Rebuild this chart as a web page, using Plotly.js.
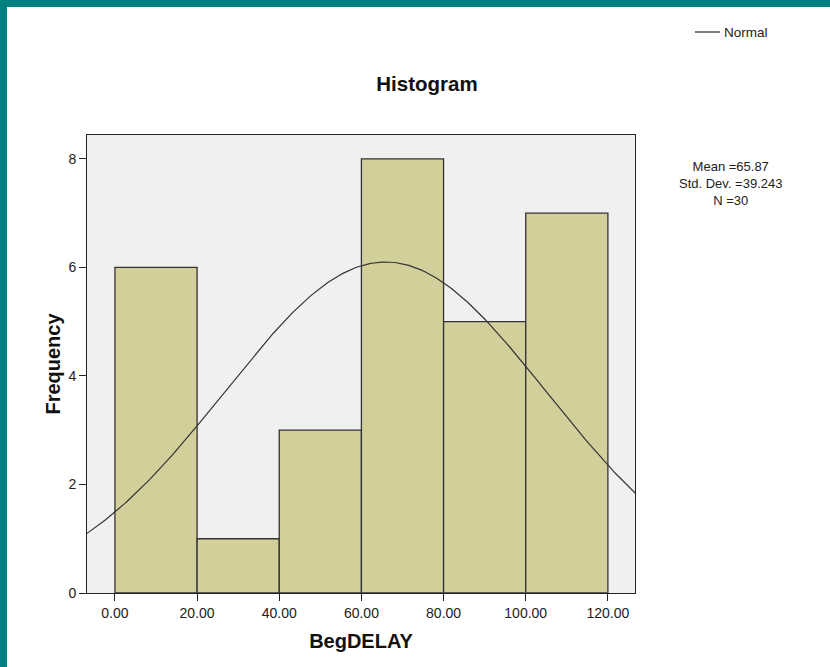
<!DOCTYPE html>
<html>
<head>
<meta charset="utf-8">
<script src="https://cdn.plot.ly/plotly-3.0.1.min.js"></script>
<style>
  html, body { margin: 0; padding: 0; background: #ffffff; }
  #chart { position: absolute; left: 0; top: 0; width: 830px; height: 667px; }
  .strip { position: absolute; background: #008080; pointer-events: none; z-index: 10; }
</style>
</head>
<body>
<div id="chart"></div>
<div class="strip" style="left:0;top:0;width:830px;height:7px;"></div>
<div class="strip" style="left:0;top:0;width:7px;height:667px;"></div>
<script>
// Histogram data
const binStarts = [0, 20, 40, 60, 80, 100];
const binWidth = 20;
const counts = [6, 1, 3, 8, 5, 7];
const xTickVals = [0, 20, 40, 60, 80, 100, 120];
const xTickText = ["0.00", "20.00", "40.00", "60.00", "80.00", "100.00", "120.00"];
const yTickVals = [0, 2, 4, 6, 8];

// Normal fit statistics shown on the chart
const meanVal = 65.87;
const sdVal = 39.243;
const nVal = 30;
const statLines = ['Mean =65.87', 'Std. Dev. =39.243', 'N =30'];

// Fitted normal curve (scaled to frequency) from the displayed statistics
const curveX = [];
const curveY = [];
for (let x = -7; x <= 127; x += 0.5) {
  const z = (x - meanVal) / sdVal;
  curveX.push(x);
  curveY.push(nVal * binWidth * Math.exp(-0.5 * z * z) / (sdVal * Math.sqrt(2 * Math.PI)));
}

const barTrace = {
  type: 'bar',
  x: binStarts.map(b => b + binWidth / 2),
  y: counts,
  width: binStarts.map(() => binWidth),
  marker: { color: '#d3cf9b', line: { color: '#333333', width: 1.3 } },
  showlegend: false,
  hoverinfo: 'x+y'
};

const lineTrace = {
  type: 'scatter',
  mode: 'lines',
  x: curveX,
  y: curveY,
  name: 'Normal',
  line: { color: '#333333', width: 1.2 },
  showlegend: false
};

const font = "'Liberation Sans', Arial, sans-serif";
const L = 87, R = 635, T = 135, B = 593;
const px = x => (x - L) / (R - L);
const py = y => (B - y) / (B - T);

const annotations = [{
  xref: 'paper', yref: 'paper',
  x: px(730.5), y: py(183),
  xanchor: 'center', yanchor: 'middle',
  align: 'center', borderpad: 0,
  showarrow: false, text: statLines.join('<br>'),
  font: { family: font, size: 13, color: '#222' }
}, {
  xref: 'paper', yref: 'paper',
  x: px(722), y: py(32),
  xanchor: 'left', yanchor: 'middle',
  showarrow: false, text: 'Normal',
  font: { family: font, size: 13.5, color: '#222' }
}];

const layout = {
  width: 830,
  height: 667,
  margin: { l: L, r: 830 - R, t: T, b: 667 - B },
  paper_bgcolor: '#ffffff',
  plot_bgcolor: '#f0f0f0',
  font: { family: font, size: 13, color: '#222222' },
  showlegend: false,
  title: {
    text: '<b>Histogram</b>',
    font: { family: font, size: 20.5, color: '#111111' },
    x: 427 / 830, xanchor: 'center', xref: 'container',
    y: 1 - 84 / 667, yanchor: 'middle', yref: 'container'
  },
  xaxis: {
    range: [-6.8, 126.6],
    tickvals: xTickVals,
    ticktext: xTickText,
    ticks: 'outside', ticklen: 7, tickcolor: '#222', tickwidth: 1,
    showline: true, linecolor: '#222', linewidth: 1, mirror: true,
    showgrid: false, zeroline: false,
    tickfont: { family: font, size: 14, color: '#222' },
    title: { text: '<b>BegDELAY</b>', font: { family: font, size: 20, color: '#111' }, standoff: 14 }
  },
  yaxis: {
    range: [0, 8.44],
    tickvals: yTickVals,
    ticks: 'outside', ticklen: 7, tickcolor: '#222', tickwidth: 1,
    showline: true, linecolor: '#222', linewidth: 1, mirror: true,
    showgrid: false, zeroline: false,
    tickfont: { family: font, size: 14, color: '#222' },
    title: { text: '<b>Frequency</b>', font: { family: font, size: 20, color: '#111' }, standoff: 2 }
  },
  shapes: [{
    type: 'line', xref: 'paper', yref: 'paper',
    x0: px(695), x1: px(720), y0: py(32), y1: py(32),
    line: { color: '#333333', width: 1.3 }
  }],
  annotations: annotations,
  bargap: 0
};

Plotly.newPlot('chart', [barTrace, lineTrace], layout, { displayModeBar: false, staticPlot: true });
</script>
</body>
</html>
